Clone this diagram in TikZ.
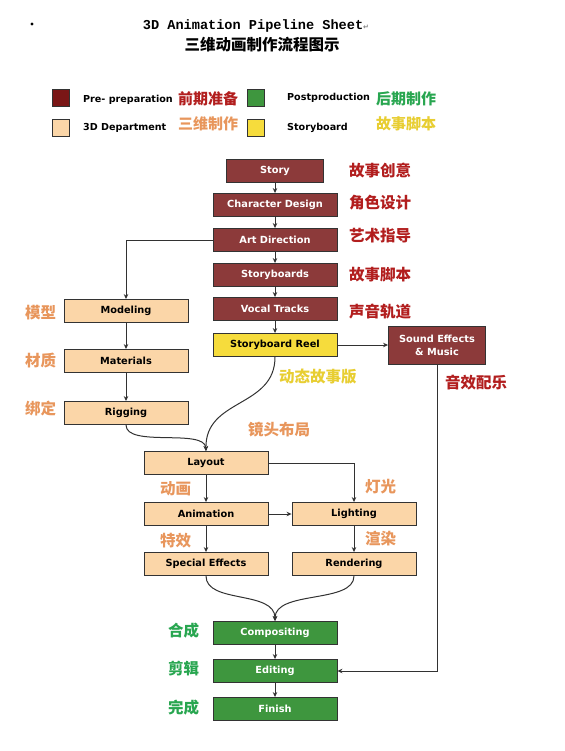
\documentclass[tikz,border=0pt]{standalone}
\usepackage{fontspec}
\setsansfont{DejaVu Sans}
\setmonofont{Liberation Mono}
\newfontfamily\cjk{Noto Sans CJK SC}
\usetikzlibrary{positioning, arrows.meta}
\definecolor{prepred}{RGB}{140,58,58}
\definecolor{prepdark}{RGB}{122,22,22}
\definecolor{deptbeige}{RGB}{251,214,168}
\definecolor{reelyellow}{RGB}{246,220,60}
\definecolor{postgreen}{RGB}{62,150,62}
\definecolor{zhred}{RGB}{178,30,30}
\definecolor{zhorange}{RGB}{232,150,92}
\definecolor{zhyellow}{RGB}{232,206,50}
\definecolor{zhgreen}{RGB}{40,166,80}
\definecolor{linegray}{RGB}{50,50,50}
\tikzset{
    stage/.style   = {draw=black!80, line width=0.9pt, align=center, inner sep=2pt,
                      minimum width=124pt, minimum height=23pt,
                      font=\sffamily\bfseries\fontsize{9.8}{12}\selectfont},
    prep/.style    = {stage, fill=prepred, text=white},
    dept/.style    = {stage, fill=deptbeige, text=black},
    reel/.style    = {stage, fill=reelyellow, text=black},
    post/.style    = {stage, fill=postgreen, text=white},
    swatch/.style  = {draw=black!80, line width=0.8pt, minimum size=17pt, inner sep=0pt},
    legtext/.style = {anchor=west, inner sep=0pt, font=\sffamily\bfseries\fontsize{9.6}{11}\selectfont},
    zh/.style      = {anchor=west, inner sep=0pt, font=\cjk\bfseries\fontsize{15.5}{17}\selectfont},
    link/.style    = {-{Stealth[length=5pt, width=4.5pt]}, draw=linegray, line width=1pt}
}
\begin{document}
\begin{tikzpicture}[x=1pt, y=-1pt]
    \useasboundingbox[fill=white] (0,0) rectangle (564,751);

    % --- Kopf ---
    \fill[black] (32,24) circle (1.6pt);
    \node[inner sep=0pt, font=\ttfamily\bfseries\fontsize{13.6}{15}\selectfont] (titel) at (256,26)
        {3D Animation Pipeline Sheet\textcolor{black!50}{\sffamily\fontsize{7}{8}\selectfont ↵}};
    \node[inner sep=0pt, font=\cjk\bfseries\fontsize{15.5}{17}\selectfont] (titelzh) at (262,45) {三维动画制作流程图示};

    % --- Legende ---
    \node[swatch, fill=prepdark]  (l1) at (61,98)  {};
    \node[swatch, fill=deptbeige] (l2) at (61,128) {};
    \node[swatch, fill=postgreen] (l3) at (256,98) {};
    \node[swatch, fill=reelyellow](l4) at (256,128){};
    \node[legtext] (l1t) at (83,100) {Pre- preparation};
    \node[legtext] (l2t) at (83,128) {3D Department};
    \node[legtext] (l3t) at (287,98) {Postproduction};
    \node[legtext] (l4t) at (287,128){Storyboard};
    \node[zh, text=zhred, font=\cjk\bfseries\fontsize{15}{17}\selectfont]    at (178,99)  {前期准备};
    \node[zh, text=zhorange, font=\cjk\bfseries\fontsize{15}{17}\selectfont] at (178,124) {三维制作};
    \node[zh, text=zhgreen, font=\cjk\bfseries\fontsize{15}{17}\selectfont]  at (376,99)  {后期制作};
    \node[zh, text=zhyellow, font=\cjk\bfseries\fontsize{15}{17}\selectfont] at (376,124) {故事脚本};

    % --- Vorproduktion ---
    \node[prep, minimum width=97pt] (story) at (275,171) {Story};
    \node[prep] (chard) at (275,205) {Character Design};
    \node[prep] (artd)  at (275,240) {Art Direction};
    \node[prep] (sbs)   at (275,275) {Storyboards};
    \node[prep] (vocal) at (275,309) {Vocal Tracks};
    \node[reel] (sreel) at (275,345) {Storyboard Reel};
    \node[prep, minimum width=97pt, minimum height=38pt] (sfx) at (437,345) {Sound Effects\\[1pt]\& Music};

    \draw[link] (story) -- (chard);
    \draw[link] (chard) -- (artd);
    \draw[link] (artd)  -- (sbs);
    \draw[link] (sbs)   -- (vocal);
    \draw[link] (vocal) -- (sreel);
    \draw[link] (sreel) -- (sfx);

    \node[zh, text=zhred] at (349,171) {故事创意};
    \node[zh, text=zhred] at (349,203) {角色设计};
    \node[zh, text=zhred] at (349,236) {艺术指导};
    \node[zh, text=zhred] at (349,275) {故事脚本};
    \node[zh, text=zhred] at (349,312) {声音轨道};
    \node[zh, text=zhyellow] at (279,377) {动态故事版};
    \node[zh, text=zhred] at (445,383) {音效配乐};

    % --- 3D-Abteilung ---
    \node[dept] (model) at (126,311) {Modeling};
    \node[dept] (mater) at (126,361) {Materials};
    \node[dept] (rigg)  at (126,413) {Rigging};
    \node[dept] (layout) at (206,463) {Layout};
    \node[dept] (anim)  at (206,514) {Animation};
    \node[dept] (light) at (354,514) {Lighting};
    \node[dept] (spfx)  at (206,564) {Special Effects};
    \node[dept] (rend)  at (354,564) {Rendering};

    \draw[link] (artd.west) -| (model.north);
    \draw[link] (model) -- (mater);
    \draw[link] (mater) -- (rigg);
    \draw[link] (rigg.south) .. controls (126,448) and (205,428) .. (layout.north);
    \draw[link] (sreel.south) .. controls (275,408) and (205,398) .. (layout.north);
    \draw[link] (layout.east) -| (light.north);
    \draw[link] (layout) -- (anim);
    \draw[link] (anim) -- (light);
    \draw[link] (anim) -- (spfx);
    \draw[link] (light) -- (rend);

    \node[zh, text=zhorange] at (25,313) {模型};
    \node[zh, text=zhorange] at (25,361) {材质};
    \node[zh, text=zhorange] at (25,409) {绑定};
    \node[zh, text=zhorange] at (248,430) {镜头布局};
    \node[zh, text=zhorange] at (160,489) {动画};
    \node[zh, text=zhorange] at (160,541) {特效};
    \node[zh, text=zhorange] at (365,487) {灯光};
    \node[zh, text=zhorange] at (365,539) {渲染};

    % --- Postproduktion ---
    \node[post] (comp)   at (275,633) {Compositing};
    \node[post] (edit)   at (275,671) {Editing};
    \node[post] (finish) at (275,709) {Finish};

    \draw[link] (spfx.south) .. controls (206,604) and (275,590) .. (comp.north);
    \draw[link] (rend.south) .. controls (354,604) and (275,590) .. (comp.north);
    \draw[link] (comp) -- (edit);
    \draw[link] (edit) -- (finish);
    \draw[link] (sfx.south) |- (edit.east);

    \node[zh, text=zhgreen] at (168,631) {合成};
    \node[zh, text=zhgreen] at (168,669) {剪辑};
    \node[zh, text=zhgreen] at (168,708) {完成};
\end{tikzpicture}
\end{document}
